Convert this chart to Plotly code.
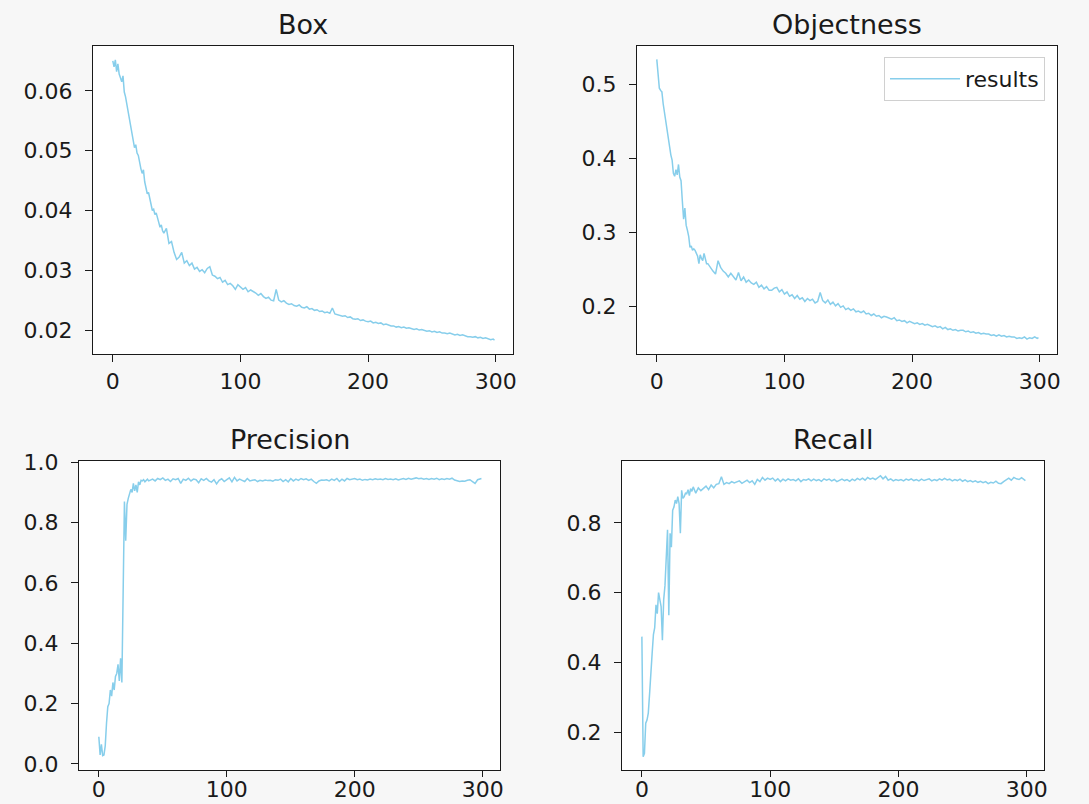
import plotly.graph_objects as go

# ---------------- data ----------------
epochs = list(range(0, 40)) + list(range(40, 300, 2)) + [299]

box_early = [0.0650, 0.0640, 0.0652, 0.0632, 0.0645, 0.0628, 0.0622, 0.0615, 0.0625, 0.0598,
             0.0590, 0.0578, 0.0565, 0.0558, 0.0545, 0.0530, 0.0518, 0.0505, 0.0510, 0.0496,
             0.0492, 0.0478, 0.0470, 0.0462, 0.0468, 0.0448, 0.0438, 0.0428, 0.0430, 0.0418,
             0.0406, 0.0400, 0.0402, 0.0393, 0.0396, 0.0385, 0.0380, 0.0372, 0.0376, 0.0366]
box_late = [0.0362, 0.0370, 0.0345, 0.0348, 0.0330, 0.0318, 0.0322, 0.0330, 0.0312, 0.0316,
            0.0308, 0.0312, 0.0302, 0.0305, 0.0298, 0.0301, 0.0296, 0.0303, 0.0306, 0.0292,
            0.0290, 0.0286, 0.0288, 0.0280, 0.0283, 0.0276, 0.0278, 0.0274, 0.0268, 0.0276,
            0.0272, 0.0268, 0.0271, 0.0264, 0.0267, 0.0265, 0.0262, 0.0258, 0.0261, 0.0256,
            0.0253, 0.0255, 0.0250, 0.0249, 0.0268, 0.0250, 0.0247, 0.0249, 0.0245, 0.0243,
            0.0244, 0.0241, 0.0240, 0.0242, 0.0238, 0.0237, 0.0239, 0.0235, 0.0236, 0.0233,
            0.0234, 0.0231, 0.0232, 0.0229, 0.0230, 0.0228, 0.0237, 0.0227, 0.0226, 0.0224,
            0.0223, 0.0224, 0.0221, 0.0222, 0.0219, 0.0218, 0.0219, 0.0216, 0.0217, 0.0215,
            0.0214, 0.0215, 0.0212, 0.0213, 0.0211, 0.0212, 0.0209, 0.0210, 0.0208, 0.0207,
            0.0207, 0.0205, 0.0206, 0.0204, 0.0205, 0.0203, 0.0204, 0.0202, 0.0201, 0.0202,
            0.0200, 0.0201, 0.0199, 0.0198, 0.0199, 0.0197, 0.0198, 0.0196, 0.0197, 0.0195,
            0.0195, 0.0194, 0.0195, 0.0193, 0.0192, 0.0193, 0.0191, 0.0192, 0.0190, 0.0189,
            0.0189, 0.0188, 0.0189, 0.0187, 0.0188, 0.0186, 0.0187, 0.0185, 0.0184, 0.0185,
            0.0183]

obj_early = [0.534, 0.510, 0.495, 0.492, 0.490, 0.474, 0.462, 0.450, 0.434, 0.425,
             0.416, 0.405, 0.398, 0.380, 0.376, 0.385, 0.378, 0.392, 0.375, 0.370,
             0.343, 0.318, 0.333, 0.310, 0.303, 0.295, 0.280, 0.282, 0.276, 0.278,
             0.276, 0.272, 0.268, 0.258, 0.270, 0.265, 0.262, 0.272, 0.262, 0.258]
obj_late = [0.258, 0.252, 0.248, 0.244, 0.262, 0.253, 0.248, 0.245, 0.240, 0.245,
            0.240, 0.236, 0.246, 0.235, 0.240, 0.233, 0.236, 0.232, 0.230, 0.233,
            0.226, 0.229, 0.224, 0.227, 0.222, 0.222, 0.225, 0.226, 0.220, 0.223,
            0.217, 0.220, 0.214, 0.216, 0.211, 0.215, 0.210, 0.212, 0.207, 0.211,
            0.208, 0.210, 0.205, 0.207, 0.219, 0.208, 0.205, 0.209, 0.203, 0.206,
            0.201, 0.204, 0.199, 0.201, 0.196, 0.198, 0.195, 0.197, 0.193, 0.194,
            0.192, 0.194, 0.190, 0.191, 0.188, 0.190, 0.187, 0.188, 0.185, 0.187,
            0.186, 0.184, 0.183, 0.185, 0.181, 0.182, 0.180, 0.181, 0.178, 0.180,
            0.179, 0.177, 0.178, 0.176, 0.177, 0.175, 0.176, 0.174, 0.173, 0.174,
            0.172, 0.173, 0.170, 0.172, 0.169, 0.170, 0.168, 0.169, 0.167, 0.168,
            0.168, 0.166, 0.167, 0.165, 0.166, 0.164, 0.165, 0.163, 0.164, 0.163,
            0.163, 0.161, 0.162, 0.160, 0.162, 0.160, 0.161, 0.159, 0.160, 0.159,
            0.159, 0.157, 0.158, 0.157, 0.159, 0.156, 0.158, 0.157, 0.159, 0.157,
            0.158]

prec_early = [0.090, 0.030, 0.065, 0.028, 0.030, 0.060, 0.135, 0.190, 0.200, 0.245,
              0.225, 0.270, 0.245, 0.290, 0.300, 0.330, 0.275, 0.350, 0.270, 0.650,
              0.870, 0.740, 0.860, 0.880, 0.900, 0.910, 0.900, 0.930, 0.905, 0.925,
              0.900, 0.935, 0.925, 0.940, 0.938, 0.942, 0.935, 0.940, 0.944, 0.938]
prec_late = [0.940, 0.944, 0.938, 0.946, 0.942, 0.948, 0.940, 0.944, 0.936, 0.945,
             0.942, 0.946, 0.930, 0.944, 0.940, 0.947, 0.938, 0.944, 0.942, 0.932,
             0.945, 0.940, 0.946, 0.938, 0.934, 0.942, 0.928, 0.940, 0.945, 0.936,
             0.942, 0.948, 0.935, 0.950, 0.938, 0.944, 0.940, 0.936, 0.946, 0.938,
             0.940, 0.942, 0.936, 0.940, 0.938, 0.941, 0.939, 0.940, 0.937, 0.942,
             0.940, 0.944, 0.936, 0.942, 0.935, 0.946, 0.938, 0.944, 0.940, 0.946,
             0.942, 0.945, 0.940, 0.944, 0.936, 0.930, 0.938, 0.941, 0.940, 0.942,
             0.938, 0.944, 0.940, 0.946, 0.936, 0.944, 0.938, 0.946, 0.942, 0.944,
             0.946, 0.942, 0.944, 0.940, 0.943, 0.941, 0.944, 0.942, 0.945, 0.943,
             0.944, 0.942, 0.946, 0.943, 0.944, 0.942, 0.945, 0.941, 0.944, 0.946,
             0.943, 0.947, 0.944, 0.946, 0.948, 0.945, 0.947, 0.944, 0.946, 0.943,
             0.946, 0.944, 0.947, 0.942, 0.945, 0.943, 0.946, 0.944, 0.947, 0.941,
             0.938, 0.936, 0.938, 0.937, 0.940, 0.942, 0.936, 0.930, 0.942, 0.944,
             0.946]

rec_early = [0.474, 0.130, 0.140, 0.226, 0.235, 0.255, 0.310, 0.390, 0.426, 0.480,
             0.500, 0.565, 0.540, 0.600, 0.580, 0.560, 0.464, 0.580, 0.620, 0.700,
             0.780, 0.535, 0.770, 0.730, 0.836, 0.845, 0.865, 0.855, 0.875, 0.855,
             0.770, 0.893, 0.870, 0.875, 0.885, 0.884, 0.895, 0.878, 0.898, 0.890]
rec_late = [0.903, 0.885, 0.900, 0.892, 0.898, 0.905, 0.895, 0.908, 0.900, 0.910,
            0.912, 0.932, 0.910, 0.915, 0.912, 0.918, 0.914, 0.916, 0.920, 0.913,
            0.918, 0.922, 0.915, 0.920, 0.910, 0.924, 0.918, 0.930, 0.922, 0.928,
            0.924, 0.928, 0.920, 0.926, 0.918, 0.925, 0.920, 0.926, 0.922, 0.924,
            0.920, 0.926, 0.918, 0.924, 0.922, 0.926, 0.920, 0.925, 0.921, 0.924,
            0.919, 0.926, 0.922, 0.925, 0.920, 0.924, 0.918, 0.922, 0.925, 0.921,
            0.924, 0.919, 0.925, 0.921, 0.927, 0.923, 0.928, 0.922, 0.930, 0.925,
            0.928, 0.924, 0.930, 0.935, 0.926, 0.933, 0.922, 0.926, 0.920, 0.924,
            0.921, 0.924, 0.920, 0.925, 0.922, 0.926, 0.921, 0.924, 0.920, 0.925,
            0.921, 0.923, 0.926, 0.920, 0.924, 0.921, 0.926, 0.922, 0.927, 0.923,
            0.925, 0.920, 0.924, 0.921, 0.925, 0.919, 0.923, 0.918, 0.921, 0.917,
            0.920, 0.916, 0.919, 0.915, 0.918, 0.912, 0.916, 0.914, 0.919, 0.913,
            0.912, 0.918, 0.924, 0.928, 0.922, 0.930, 0.926, 0.924, 0.929, 0.925,
            0.921]

titles = ["Box", "Objectness", "Precision", "Recall"]
series = [box_early + box_late, obj_early + obj_late,
          prec_early + prec_late, rec_early + rec_late]
x_ticks = [0, 100, 200, 300]
y_ticks = [[0.02, 0.03, 0.04, 0.05, 0.06], [0.2, 0.3, 0.4, 0.5],
           [0.0, 0.2, 0.4, 0.6, 0.8, 1.0], [0.2, 0.4, 0.6, 0.8]]
y_formats = [".2f", ".1f", ".1f", ".1f"]

# ---------------- style / layout ----------------
W, H = 1089, 804
LINE = "#87CEEB"
FONT = "DejaVu Sans"
INK = "#1a1a1a"
BG = "#f7f7f7"

# plot boxes in pixels: (left, right, top, bottom)
boxes = [(93, 513, 46, 354), (637, 1057, 46, 354),
         (79, 500, 461, 770), (622, 1044, 461, 770)]
y_ranges = [[0.0160, 0.0675], [0.136, 0.552], [-0.02, 1.004], [0.092, 0.977]]
x_range = [-15.5, 313.5]
x_standoff = [0, 0, -7, -7]
x_ticklen = [7, 7, 6, 6]

fig = go.Figure()
layout = dict(
    width=W, height=H, autosize=False,
    margin=dict(l=0, r=0, t=0, b=0, pad=0, autoexpand=False),
    paper_bgcolor=BG,
    plot_bgcolor="#ffffff",
    font=dict(family=FONT, size=22, color=INK),
    showlegend=True,
    legend=dict(x=1045 / W, y=1 - 57 / H, xanchor="right", yanchor="top",
                bgcolor="rgba(255,255,255,0.9)", bordercolor="#d0d0d0", borderwidth=1,
                itemwidth=70, tracegroupgap=0,
                font=dict(family=FONT, size=22, color=INK)),
    annotations=[],
)

for i, (title, ys) in enumerate(zip(titles, series)):
    n = "" if i == 0 else str(i + 1)
    l, r, t, b = boxes[i]
    axis_common = dict(showline=True, mirror=True, linecolor=INK, linewidth=1.3,
                       ticks="outside", ticklen=7, tickwidth=1.2, tickcolor=INK,
                       showgrid=False, zeroline=False, automargin=False,
                       tickfont=dict(family=FONT, size=22, color=INK))
    layout["xaxis" + n] = dict(axis_common, domain=[l / W, r / W], range=x_range,
                               tickvals=x_ticks, anchor="y" + n,
                               ticklen=x_ticklen[i], ticklabelstandoff=x_standoff[i])
    layout["yaxis" + n] = dict(axis_common, domain=[1 - b / H, 1 - t / H], range=y_ranges[i],
                               tickvals=y_ticks[i], tickformat=y_formats[i], anchor="x" + n,
                               ticklabelstandoff=8)
    fig.add_trace(go.Scatter(x=epochs, y=ys, mode="lines", name="results",
                             line=dict(color=LINE, width=1.5),
                             xaxis="x" + n, yaxis="y" + n,
                             showlegend=(i == 1)))
    layout["annotations"].append(dict(
        text=title, xref="paper", yref="paper", x=(l + r) / 2 / W,
        y=1 - (t - 21) / H, xanchor="center", yanchor="middle", showarrow=False,
        font=dict(family=FONT, size=27, color=INK)))

fig.update_layout(**layout)
fig.write_html(
    "out.html",
    config={"displayModeBar": False},
    post_script="document.body.style.margin='0px';document.body.style.background='" + BG + "';",
)
